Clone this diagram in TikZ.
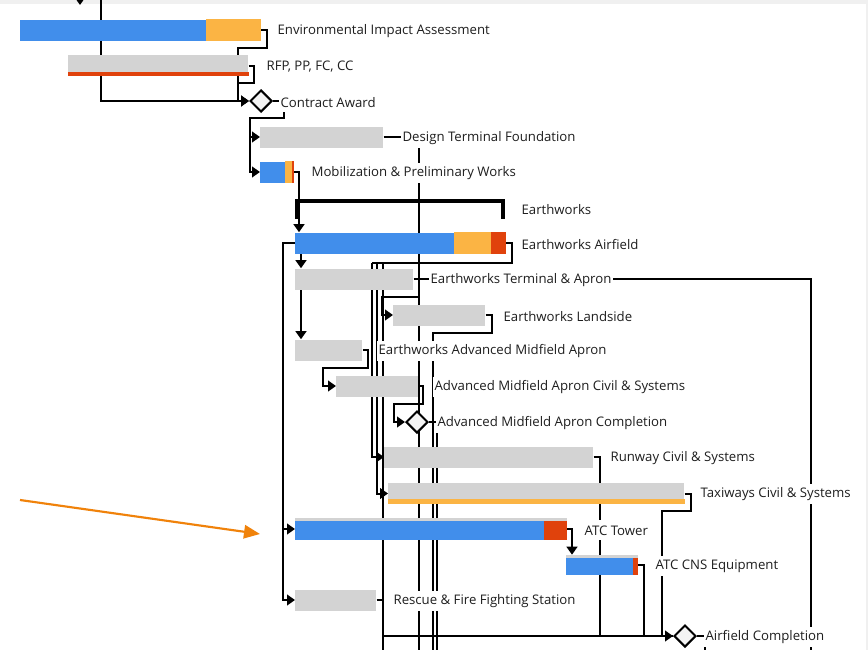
\documentclass[tikz,border=0pt]{standalone}
\usepackage{fontspec}
\setmainfont{Open Sans}
\usetikzlibrary{shapes.geometric,arrows.meta,calc,backgrounds}
\definecolor{barblue}{RGB}{65,142,235}
\definecolor{barorange}{RGB}{251,180,68}
\definecolor{barred}{RGB}{224,66,12}
\definecolor{bargray}{RGB}{211,211,211}
\definecolor{msfill}{RGB}{244,244,244}
\definecolor{ptrorange}{RGB}{240,130,10}
\definecolor{txt}{RGB}{30,30,30}
\definecolor{chrome}{RGB}{240,240,240}

\begin{document}
\begin{tikzpicture}[x=0.75pt, y=-0.75pt, >={Triangle[length=6pt,width=8pt]},
      link/.style={draw=black, line width=1.5pt},
      bar/.style={anchor=west, inner sep=0pt, minimum height=15.75pt},
      milestone/.style={diamond, aspect=1, draw=black, fill=msfill, line width=1.5pt, minimum size=16.5pt, inner sep=0pt}]
    \tikzstyle{task} = [anchor=west, fill=white, inner xsep=1pt, inner ysep=0pt, minimum height=15pt, yshift=-1pt, text=txt, font=\fontsize{9.9}{12}\selectfont]
    \useasboundingbox (0,0) rectangle (868,650);
    \node[bar, fill=barblue, minimum width=180pt] (env) at (20,30) {};
    \node[bar, fill=bargray, minimum width=135pt] (rfp) at (68,65.5) {};
    \node[milestone] (ca) at (261,101) {};
    \node[bar, fill=bargray, minimum width=92.25pt] (dtf) at (260,137) {};
    \node[bar, fill=barblue, minimum width=24.75pt] (mob) at (260,172) {};
    \node[bar, fill=barblue, minimum width=157.5pt] (ewa) at (295,243) {};
    \node[bar, fill=bargray, minimum width=88.5pt] (eta) at (295,279) {};
    \node[bar, fill=bargray, minimum width=69pt] (ewl) at (393,315) {};
    \node[bar, fill=bargray, minimum width=50.25pt] (eamf) at (295,350) {};
    \node[bar, fill=bargray, minimum width=61.5pt] (amcs) at (336,386) {};
    \node[milestone] (amac) at (417,422) {};
    \node[bar, fill=bargray, minimum width=156.75pt] (rcs) at (384,457) {};
    \node[bar, fill=bargray, minimum width=222pt] (tcs) at (388,493.5) {};
    \node[bar, fill=barblue, minimum width=203.25pt, minimum height=16.5pt] (atc) at (295,529) {};
    \node[bar, fill=barblue, minimum width=53.25pt, minimum height=15pt] (cns) at (566,565) {};
    \node[bar, fill=bargray, minimum width=60.75pt] (rff) at (295,600) {};
    \node[milestone] (afc) at (685,636) {};
    \fill[barorange] ($(env.south west)+(186,0)$) rectangle (env.north east);
    \fill[barred] (rfp.south west) rectangle ($(rfp.south east)+(0,-4)$);
    \fill[barorange] ($(mob.south west)+(25,0)$) rectangle ($(mob.north east)+(-2,0)$);
    \fill[barred] ($(mob.south east)+(-2,0)$) rectangle (mob.north east);
    \fill[barorange] ($(ewa.south west)+(159,0)$) rectangle ($(ewa.north east)+(-15,0)$);
    \fill[barred] ($(ewa.south east)+(-15,0)$) rectangle (ewa.north east);
    \fill[barorange] (tcs.south west) rectangle ($(tcs.south east)+(0,-5)$);
    \fill[bargray] (atc.north west) rectangle ($(atc.north east)+(0,3)$);
    \fill[barred] ($(atc.south east)+(-23,0)$) rectangle ($(atc.north east)+(0,3)$);
    \fill[bargray] (cns.north west) rectangle ($(cns.north east)+(0,3)$);
    \fill[barred] ($(cns.south east)+(-5,0)$) rectangle ($(cns.north east)+(0,3)$);
    \draw[line width=3.5pt] (297,219) |- (503,201) -- (503,219);
    \node[task] (lEnv) at (276,30) {Environmental Impact Assessment};
    \node[task] (lRfp) at (265,65) {RFP, PP, FC, CC};
    \node[task] (lCa) at (279,101) {Contract Award};
    \node[task] (lDtf) at (401,137) {Design Terminal Foundation};
    \node[task] (lMob) at (310,172) {Mobilization \& Preliminary Works};
    \node[task] (lEw) at (520,208) {Earthworks};
    \node[task] (lEwa) at (520,243) {Earthworks Airfield};
    \node[task] (lEta) at (429,279) {Earthworks Terminal \& Apron};
    \node[task] (lEwl) at (502,315) {Earthworks Landside};
    \node[task] (lEamf) at (377,350) {Earthworks Advanced Midfield Apron};
    \node[task] (lAmcs) at (433,386) {Advanced Midfield Apron Civil \& Systems};
    \node[task] (lAmac) at (436,422) {Advanced Midfield Apron Completion};
    \node[task] (lRcs) at (609,457) {Runway Civil \& Systems};
    \node[task] (lTcs) at (699,493) {Taxiways Civil \& Systems};
    \node[task] (lAtc) at (583,529) {ATC Tower};
    \node[task] (lCns) at (654,565) {ATC CNS Equipment};
    \node[task] (lRff) at (392,600) {Rescue \& Fire Fighting Station};
    \node[task] (lAfc) at (704,636) {Airfield Completion};
    \coordinate (topA) at (101,0);
    \coordinate (topB) at (80,-4);
    \coordinate (topBend) at (80,5);
    \coordinate (fanA) at (372,263);
    \coordinate (fanB) at (377,263);
    \coordinate (fanC) at (383,263);
    \coordinate (dropT) at (419,297);
    \coordinate (endT) at (419,650);
    \coordinate (endL) at (433,650);
    \coordinate (endM) at (437,650);
    \coordinate (endF) at (383,650);
    \coordinate (endR) at (811,650);
    \coordinate (endC) at (705,650);
    \coordinate (ptrA) at (20,500);
    \coordinate (ptrB) at (260,534);
    \draw[ptrorange, line width=1.6pt, -{Triangle[length=12pt,width=10pt]}] (ptrA) -- (ptrB);
    \begin{scope}[on background layer]
      \fill[white] (0,0) rectangle (868,650);
      \fill[chrome] (0,0) rectangle (868,3.5);
      \fill[chrome] (865.5,0) rectangle (868,650);
      \draw[link,->] (topA) |- (ca.west);
      \draw[link,->] (topB) -- (topBend);
      \draw[link,->] (env.east) -- ++(6,0) -- ++(0,18) -| ($(ca.west)+(-11,0)$) -- (ca.west);
      \draw[link] (rfp.east) -- ++(5,0) -- ++(0,17) -| ($(ca.west)+(-11,0)$);
      \draw[link,->] (ca.east) -- ++(11,0) -- ++(0,17) -| ($(dtf.west)+(-10,0)$) -- (dtf.west);
      \draw[link,->] ($(dtf.west)+(-10,0)$) |- (mob.west);
      \draw[link] (dtf.east) -| (endT);
      \draw[link,->] (dropT) -| ($(ewl.west)+(-11,0)$) -- (ewl.west);
      \draw[link,->] (mob.east) -| ($(ewa.north west)+(4,0)$);
      \draw[link,->] ($(ewa.south west)+(6,0)$) -- ($(eta.north west)+(6,0)$);
      \draw[link,->] ($(eta.south west)+(6,0)$) -- ($(eamf.north west)+(6,0)$);
      \draw[link] (ewa.east) -- ++(6,0) |- (fanA);
      \draw[link,->] (fanA) |- (rcs.west);
      \draw[link,->] (fanB) |- (tcs.west);
      \draw[link] (fanC) -- (endF);
      \draw[link,->] (ewa.west) -- ++(-12,0) |- (atc.west);
      \draw[link,->] ($(ewa.west)+(-12,0)$) |- (rff.west);
      \draw[link] (eta.east) -| (endR);
      \draw[link] (ewl.east) -- ++(6,0) -- ++(0,18) -| (endL);
      \draw[link,->] (eamf.east) -- ++(5,0) -- ++(0,18) -| ($(amcs.west)+(-13,0)$) -- (amcs.west);
      \draw[link,->] (amcs.east) -- ++(4,0) -- ++(0,18) -| ($(amac.west)+(-11,0)$) -- (amac.west);
      \draw[link] (amac.east) -| (endM);
      \draw[link,->] (atc.east) -| ($(cns.north west)+(6,0)$);
      \draw[link] (rcs.east) -- ++(6,0) |- (afc.west);
      \draw[link] (tcs.east) -- ++(6,0) -- ++(0,17) -| ($(afc.west)+(-11,0)$);
      \draw[link] (cns.east) -- ++(6,0) |- (afc.west);
      \draw[link,->] (rff.east) -- ++(6,0) |- (afc.west);
      \draw[link] (afc.east) -| (endC);
    \end{scope}
\end{tikzpicture}
\end{document}
